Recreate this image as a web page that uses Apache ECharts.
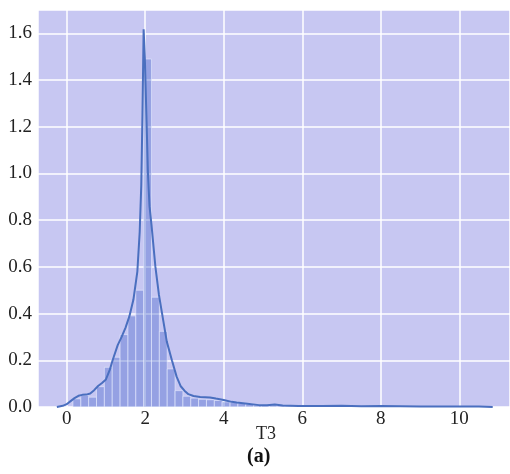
<!DOCTYPE html>
<html><head><meta charset="utf-8">
<script src="https://cdn.jsdelivr.net/npm/echarts@6/dist/echarts.min.js"></script>
<style>html,body{margin:0;padding:0;background:#fff}#c{width:510px;height:474px}</style>
</head><body><div id="c"></div>
<script>
// Histogram bins (left edge, density)
const binLeft = [0.16,0.36,0.56,0.76,0.96,1.16,1.36,1.56,1.76,1.96,2.16,2.36,2.56,2.76,2.96,3.16,3.36,3.56,3.76,3.96,4.16,4.36,4.56,4.76,4.96,5.16,5.36,5.56,5.76,5.96,6.16,6.36,6.56,6.76,6.96,7.16,7.36,7.56,7.76,7.96,8.16,8.36,8.56,8.76,8.96,9.16,9.36,9.56,9.76,9.96,10.16,10.36,10.56];
const binWidth = 0.2;
const binDensity = [0.035,0.05,0.042,0.087,0.17,0.213,0.31,0.39,0.50,1.49,0.47,0.324,0.163,0.07,0.046,0.038,0.033,0.031,0.028,0.022,0.02,0.016,0.012,0.008,0.006,0.008,0.006,0.004,0.003,0.002,0.002,0.003,0.002,0.001,0.003,0.002,0.001,0.001,0.002,0.002,0.001,0.001,0.002,0.001,0.001,0.001,0.0,0.001,0.001,0.0,0.001,0.0,0.001];
// KDE curve
const kdeX = [-0.25,-0.1,0.0,0.1,0.2,0.3,0.4,0.5,0.6,0.7,0.8,0.9,1.0,1.1,1.17,1.3,1.4,1.5,1.6,1.7,1.8,1.86,1.9,1.93,1.96,1.99,2.03,2.07,2.11,2.16,2.26,2.35,2.43,2.55,2.68,2.8,2.9,3.0,3.1,3.23,3.4,3.65,3.8,4.0,4.2,4.33,4.6,4.9,5.1,5.3,5.5,5.9,6.5,7.0,7.5,8.0,8.5,9.0,9.5,10.0,10.5,10.85];
const kdeY = [0,0.005,0.012,0.025,0.038,0.048,0.052,0.053,0.058,0.072,0.09,0.103,0.118,0.16,0.2,0.265,0.3,0.34,0.39,0.46,0.58,0.75,0.95,1.25,1.617,1.5,1.25,1.0,0.86,0.78,0.6,0.48,0.4,0.28,0.2,0.13,0.09,0.07,0.055,0.047,0.043,0.041,0.036,0.03,0.022,0.019,0.014,0.008,0.007,0.011,0.006,0.004,0.004,0.005,0.003,0.004,0.003,0.002,0.002,0.002,0.002,0.0];
const xLabel = 'T3';
const caption = '(a)';

const chart = echarts.init(document.getElementById('c'));
const histData = binLeft.map((l, i) => [l, l + binWidth, binDensity[i]]);
const kdeData = kdeX.map((x, i) => [x, kdeY[i]]);
const font = '"Liberation Serif", "Times New Roman", serif';

chart.setOption({
  animation: false,
  backgroundColor: '#ffffff',
  grid: {left: 38, right: 0, top: 10, bottom: 67, show: true, backgroundColor: '#c7c7f2', borderWidth: 0},
  xAxis: {
    type: 'value', min: -0.73, max: 11.29,
    splitNumber: 6,
    axisLine: {show: false}, axisTick: {show: false},
    splitLine: {show: true, lineStyle: {color: '#ffffff', width: 1.5}},
    axisLabel: {color: '#222', fontFamily: font, fontSize: 19, margin: 3,
      showMinLabel: false, showMaxLabel: false,
      formatter: v => (Math.abs(v % 2) < 1e-9 ? String(v) : '')},
    name: xLabel, nameLocation: 'middle', nameGap: 18, nameMoveOverlap: false,
    nameTextStyle: {color: '#222', fontFamily: font, fontSize: 18, padding: [0, 16, 0, 0]}
  },
  yAxis: {
    type: 'value', min: 0, max: 1.70, interval: 0.2,
    axisLine: {show: false}, axisTick: {show: false},
    splitLine: {show: true, lineStyle: {color: '#ffffff', width: 1.5}},
    axisLabel: {color: '#222', fontFamily: font, fontSize: 19, margin: 6,
      showMaxLabel: false, formatter: v => v.toFixed(1)}
  },
  graphic: [{
    type: 'text', left: 247, top: 447,
    style: {text: caption, fontFamily: font, fontSize: 20, fontWeight: 'bold', fill: '#111'}
  }],
  series: [{
    type: 'custom', clip: true,
    data: histData,
    encode: {x: [0, 1], y: 2},
    renderItem: function (params, api) {
      const p0 = api.coord([api.value(0), api.value(2)]);
      const p1 = api.coord([api.value(1), 0]);
      return {type: 'rect',
        shape: {x: p0[0], y: p0[1], width: p1[0] - p0[0], height: p1[1] - p0[1]},
        style: {fill: 'rgba(82,110,208,0.42)', stroke: 'rgba(235,238,255,0.7)', lineWidth: 0.8}};
    },
    z: 2
  }, {
    type: 'line', data: kdeData, showSymbol: false, smooth: false,
    lineStyle: {color: '#4a6fbf', width: 2}, z: 3
  }]
});
</script></body></html>
